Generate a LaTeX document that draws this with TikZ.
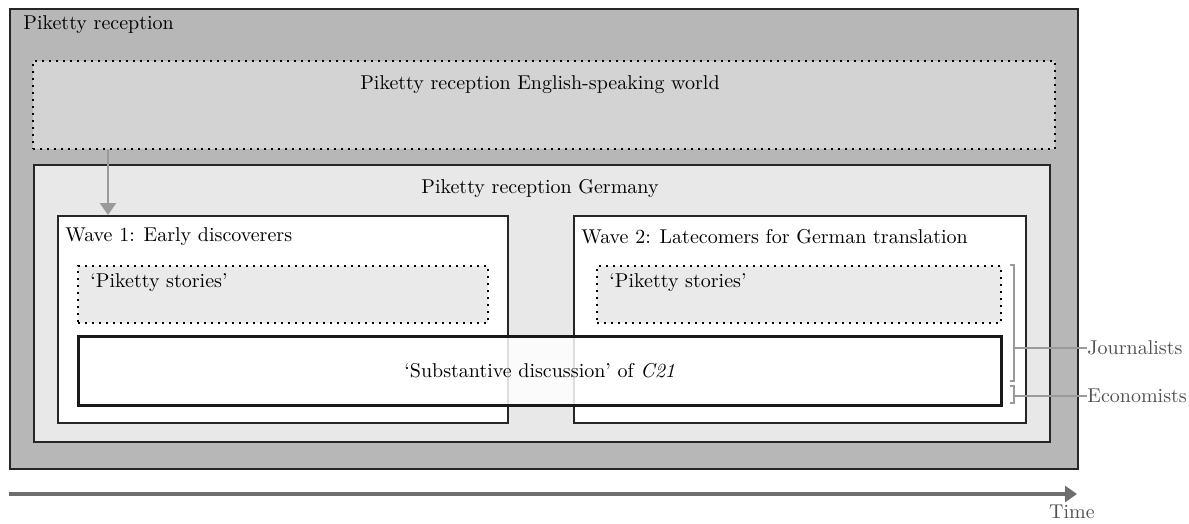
\documentclass[tikz,border=0pt]{standalone}
\usepackage{tikz}
\usetikzlibrary{positioning,arrows.meta}
\definecolor{outergray}{HTML}{B7B7B7}
\definecolor{englishgray}{HTML}{D3D3D3}
\definecolor{germanygray}{HTML}{E8E8E8}
\definecolor{storygray}{HTML}{EAEAEA}
\definecolor{linegray}{HTML}{9A9A9A}
\definecolor{timegray}{HTML}{6E6E6E}
\definecolor{textgray}{HTML}{505050}
\tikzstyle{area} = [rectangle, anchor=north west, draw=black!85, line width=0.8pt, inner sep=0pt]
\tikzstyle{dotbox} = [rectangle, anchor=north west, draw=black, line width=1pt, dash pattern=on 1pt off 2.5pt, inner sep=0pt]
\tikzstyle{lbl} = [inner sep=0pt, font=\fontsize{10}{12}\selectfont]
\tikzstyle{arrow} = [line width=1.6pt, -{Triangle[length=6pt,width=8pt]}]
\tikzstyle{bracket} = [draw=linegray, line width=0.6pt]

\begin{document}
\begin{tikzpicture}[x=0.5pt, y=-0.5pt]
		\useasboundingbox (0,0) rectangle (1189,524);

		% Nodes
		\node (reception) [area, fill=outergray, line width=1pt, minimum width=534pt, minimum height=230pt] at (9,8) {};
		\node (recl) [lbl, anchor=west] at ([xshift=7pt, yshift=-8.5pt]reception.north west) {Piketty reception};

		\node (english) [dotbox, fill=englishgray, minimum width=511pt, minimum height=44pt] at (32,60) {};
		\node (engl) [lbl] at (540,85) {Piketty reception English-speaking world};

		\node (germany) [area, fill=germanygray, minimum width=508pt, minimum height=138.5pt] at (33,164) {};
		\node (gerl) [lbl] at (540,188) {Piketty reception Germany};

		\node (wave1) [area, fill=white, minimum width=225pt, minimum height=103.5pt] at (57,215) {};
		\node (wave1l) [lbl, anchor=west] at ([xshift=4pt, yshift=-11pt]wave1.north west) {Wave 1: Early discoverers};

		\node (wave2) [area, fill=white, minimum width=226pt, minimum height=103.5pt] at (573,215) {};
		\node (wave2l) [lbl, anchor=west] at ([xshift=4pt, yshift=-11pt]wave2.north west) {Wave 2: Latecomers for German translation};

		\node (stories1) [dotbox, fill=storygray, minimum width=205pt, minimum height=28.5pt] at (77,265) {};
		\node (stories1l) [lbl, anchor=west] at ([xshift=6.5pt, yshift=-9pt]stories1.north west) {`Piketty stories'};

		\node (stories2) [dotbox, fill=storygray, minimum width=202pt, minimum height=28.5pt] at (596,265) {};
		\node (stories2l) [lbl, anchor=west] at ([xshift=6.5pt, yshift=-9pt]stories2.north west) {`Piketty stories'};

		\node (subst) [area, fill=white, fill opacity=0.85, draw=black!90, line width=1.3pt, minimum width=461.5pt, minimum height=34.5pt] at (77,335) {};
		\node (substl) [lbl] at (subst.center) {`Substantive discussion' of \textit{C21}};

		\node (journ) [lbl, text=textgray, anchor=west] at (1087,348) {Journalists};
		\node (econ) [lbl, text=textgray, anchor=west] at (1087,396) {Economists};
		\node (time) [lbl, text=textgray] at (1072,512) {Time};

		\coordinate (tstart) at (9,494);
		\coordinate (tend) at (1077,494);

		% Brackets
		\draw [bracket] (1010,265) -- (1014,265) -- (1014,381) -- (1010,381);
		\draw [bracket] (1010,386) -- (1014,386) -- (1014,403) -- (1010,403);
		\draw [bracket] (1014,348) -- (journ.west);
		\draw [bracket] (1014,396) -- (econ.west);

		% Arrows
		\draw [arrow, draw=linegray, line width=1.3pt] (english.south west -| 108,0) -- (wave1.north west -| 108,0);
		\draw [arrow, draw=timegray] (tstart) -- (tend);
	\end{tikzpicture}
\end{document}
